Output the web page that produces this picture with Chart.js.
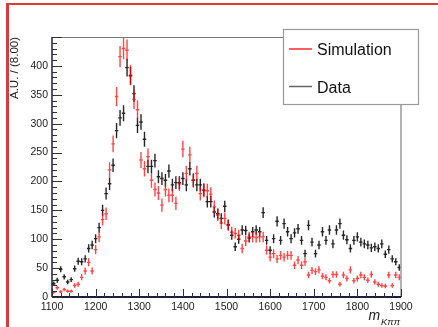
<!DOCTYPE html>
<html>
<head>
<meta charset="utf-8">
<title>m_Kpipi</title>
<script src="https://cdn.jsdelivr.net/npm/chart.js@4.4.1/dist/chart.umd.min.js"></script>
<style>
  html, body { margin: 0; padding: 0; background: #fff; overflow: hidden; }
  #wrap { position: relative; width: 438px; height: 327px; }
  #frame { position: absolute; left: 6px; top: 3px; width: 450px; height: 340px;
           border-top: 2px solid #d63c3c; border-left: 3px solid #d63c3c; pointer-events: none; }
</style>
</head>
<body>
<div id="wrap">
  <canvas id="massChart" width="438" height="327"></canvas>
  <div id="frame"></div>
</div>
<script>
// bin centres, 8 MeV bins from 1100 to 1900
const binCenters = [
  1104, 1112, 1120, 1128, 1136, 1144, 1152, 1160, 1168, 1176,
  1184, 1192, 1200, 1208, 1216, 1224, 1232, 1240, 1248, 1256,
  1264, 1272, 1280, 1288, 1296, 1304, 1312, 1320, 1328, 1336,
  1344, 1352, 1360, 1368, 1376, 1384, 1392, 1400, 1408, 1416,
  1424, 1432, 1440, 1448, 1456, 1464, 1472, 1480, 1488, 1496,
  1504, 1512, 1520, 1528, 1536, 1544, 1552, 1560, 1568, 1576,
  1584, 1592, 1600, 1608, 1616, 1624, 1632, 1640, 1648, 1656,
  1664, 1672, 1680, 1688, 1696, 1704, 1712, 1720, 1728, 1736,
  1744, 1752, 1760, 1768, 1776, 1784, 1792, 1800, 1808, 1816,
  1824, 1832, 1840, 1848, 1856, 1864, 1872, 1880, 1888, 1896
];
const binWidth = 8;

// Data (black)
const dataValues = [
  23, 29, 48, 35, 26, 30, 49, 62, 61, 66,
  84, 90, 101, 120, 150, 179, 196, 228, 288, 310,
  318, 397, 383, 352, 297, 303, 273, 226, 226, 236,
  208, 205, 202, 218, 194, 198, 198, 205, 194, 222,
  202, 194, 194, 185, 165, 165, 147, 144, 136, 157,
  125, 107, 87, 100, 116, 115, 102, 113, 116, 113,
  146, 98, 81, 101, 131, 98, 127, 113, 101, 111,
  118, 98, 75, 124, 95, 75, 90, 113, 98, 116,
  92, 116, 127, 107, 99, 84, 98, 104, 95, 92,
  90, 85, 87, 84, 92, 74, 82, 66, 61, 51
];

// Simulation (red)
const simValues = [
  8, 16, 9, 13, 10, 10, 20, 22, 34, 45,
  60, 45, 82, 104, 134, 144, 220, 265, 347, 416,
  430, 427, 384, 342, 324, 237, 222, 243, 202, 186,
  180, 159, 186, 176, 176, 162, 196, 256, 214, 246,
  202, 214, 179, 185, 184, 178, 156, 142, 128, 136,
  124, 112, 110, 107, 84, 97, 104, 104, 103, 104,
  104, 81, 69, 75, 66, 72, 69, 72, 72, 55,
  64, 55, 61, 38, 46, 44, 47, 36, 34, 28,
  39, 39, 22, 38, 32, 47, 28, 32, 38, 34,
  29, 39, 26, 22, 20, 19, 38, 20, 38, 34
];

// tick labels
const xTickValues = [1100, 1200, 1300, 1400, 1500, 1600, 1700, 1800, 1900];
const yTickValues = [0, 50, 100, 150, 200, 250, 300, 350, 400];

// per-bin weight used for the sqrt(N) error bars (normalised histograms)
const dataWeight = 0.6;
const simWeight = 0.8;

const toPoints = (values, weight) =>
  values.map((v, i) => ({ x: binCenters[i], y: v, err: Math.sqrt(v * weight) }));

const FONT = '"Liberation Sans", Arial, Helvetica, sans-serif';

// ROOT-like drawing: error crosses, inner ticks, frame, legend, titles
const rootStyle = {
  id: "rootStyle",
  afterDatasetsDraw(chart) {
    const { ctx, chartArea: a, scales: { x, y } } = chart;
    ctx.save();
    ctx.beginPath();
    ctx.rect(a.left, a.top, a.right - a.left, a.bottom - a.top);
    ctx.clip();
    chart.data.datasets.forEach((ds) => {
      ctx.strokeStyle = ds.borderColor;
      ctx.lineWidth = 1.4;
      ds.data.forEach((p) => {
        const px = x.getPixelForValue(p.x);
        const py = y.getPixelForValue(p.y);
        ctx.beginPath();
        ctx.moveTo(px, y.getPixelForValue(p.y + p.err));
        ctx.lineTo(px, y.getPixelForValue(p.y - p.err));
        ctx.moveTo(x.getPixelForValue(p.x - binWidth / 2), py);
        ctx.lineTo(x.getPixelForValue(p.x + binWidth / 2), py);
        ctx.stroke();
      });
    });
    ctx.restore();
  },
  afterDraw(chart) {
    const { ctx, chartArea: a, scales: { x, y } } = chart;
    ctx.save();

    // frame: grey top/right, dark axes bottom/left
    ctx.strokeStyle = "#777";
    ctx.lineWidth = 1;
    ctx.beginPath();
    ctx.moveTo(a.left, a.top + 0.5);
    ctx.lineTo(a.right, a.top + 0.5);
    ctx.stroke();
    ctx.strokeStyle = "#999";
    ctx.lineWidth = 1.5;
    ctx.beginPath();
    ctx.moveTo(a.right, a.top);
    ctx.lineTo(a.right, a.bottom);
    ctx.stroke();

    ctx.strokeStyle = "#1e1e38";
    ctx.lineWidth = 2;
    ctx.beginPath();
    ctx.moveTo(a.left, a.bottom);
    ctx.lineTo(a.right, a.bottom);
    ctx.stroke();
    ctx.lineWidth = 1.5;
    ctx.beginPath();
    ctx.moveTo(a.left, a.top);
    ctx.lineTo(a.left, a.bottom);
    ctx.stroke();

    // ticks pointing inside
    ctx.strokeStyle = "#333";
    ctx.lineWidth = 1;
    ctx.beginPath();
    for (let v = x.min; v <= x.max; v += 20) {
      const px = Math.round(x.getPixelForValue(v)) + 0.5;
      const len = v % 100 === 0 ? 8 : 4;
      ctx.moveTo(px, a.bottom);
      ctx.lineTo(px, a.bottom - len);
    }
    for (let v = y.min; v <= y.max; v += 10) {
      const py = Math.round(y.getPixelForValue(v)) + 0.5;
      const len = v % 50 === 0 ? 10 : 5;
      ctx.moveTo(a.left, py);
      ctx.lineTo(a.left + len, py);
    }
    ctx.stroke();

    // y title, right aligned to the top of the axis
    ctx.fillStyle = "#222";
    ctx.font = "11.5px " + FONT;
    ctx.translate(15, a.top);
    ctx.rotate(-Math.PI / 2);
    ctx.textAlign = "right";
    ctx.textBaseline = "middle";
    ctx.fillText("A.U. / (8.00)", 0, 0);
    ctx.setTransform(1, 0, 0, 1, 0, 0);

    // x title m_{Kππ}
    ctx.textAlign = "left";
    ctx.textBaseline = "alphabetic";
    ctx.font = "italic 14px " + FONT;
    ctx.fillText("m", 368.5, 319.5);
    ctx.font = "italic 9.5px " + FONT;
    ctx.fillText("Kππ", 381, 325);

    // legend box
    ctx.fillStyle = "#fff";
    ctx.fillRect(283, 29, 135, 75);
    ctx.strokeStyle = "#999";
    ctx.lineWidth = 1.2;
    ctx.strokeRect(283.5, 29.5, 135, 75);
    const entries = chart.data.datasets.slice().reverse();
    entries.forEach((ds, i) => {
      const ly = 49 + i * 37.5;
      ctx.strokeStyle = ds.legendColor;
      ctx.lineWidth = 1.5;
      ctx.beginPath();
      ctx.moveTo(289, ly);
      ctx.lineTo(312, ly);
      ctx.stroke();
      ctx.fillStyle = "#111";
      ctx.font = "16px " + FONT;
      ctx.textBaseline = "middle";
      ctx.fillText(ds.label, 317, ly + 2);
    });
    ctx.restore();
  },
};

const drawMassChart = () => {
  const canvas = document.getElementById("massChart");
  const ctx = canvas.getContext("2d");

  window.massChart = new Chart(ctx, {
    type: "scatter",
    data: {
      datasets: [
        {
          label: "Data",
          data: toPoints(dataValues, dataWeight),
          borderColor: "rgba(0, 0, 0, 0.85)",
          legendColor: "#666",
          pointRadius: 0,
        },
        {
          label: "Simulation",
          data: toPoints(simValues, simWeight),
          borderColor: "rgba(255, 0, 0, 0.72)",
          legendColor: "#ff2a2a",
          pointRadius: 0,
        },
      ],
    },
    options: {
      responsive: false,
      animation: false,
      layout: { padding: { left: 0, top: 37, right: 37, bottom: 0 } },
      scales: {
        x: {
          type: "linear",
          min: 1100,
          max: 1900,
          grid: { display: false, drawTicks: false },
          border: { display: false },
          afterBuildTicks: (scale) => { scale.ticks = xTickValues.map((v) => ({ value: v })); },
          afterFit: (scale) => { scale.height = 30; },
          ticks: {
            padding: 4,
            maxRotation: 0,
            autoSkip: false,
            color: "#222",
            font: { family: FONT, size: 10.5 },
            callback: (v) => String(v),
          },
        },
        y: {
          type: "linear",
          min: 0,
          max: 450,
          grid: { display: false, drawTicks: false },
          border: { display: false },
          afterBuildTicks: (scale) => { scale.ticks = yTickValues.map((v) => ({ value: v })); },
          afterFit: (scale) => { scale.width = 52; },
          ticks: {
            padding: 4,
            autoSkip: false,
            color: "#222",
            font: { family: FONT, size: 10.5 },
            callback: (v) => String(v),
          },
        },
      },
      plugins: {
        legend: { display: false },
        tooltip: { enabled: false },
      },
    },
    plugins: [rootStyle],
  });
};

document.addEventListener("DOMContentLoaded", drawMassChart);
</script>
</body>
</html>
